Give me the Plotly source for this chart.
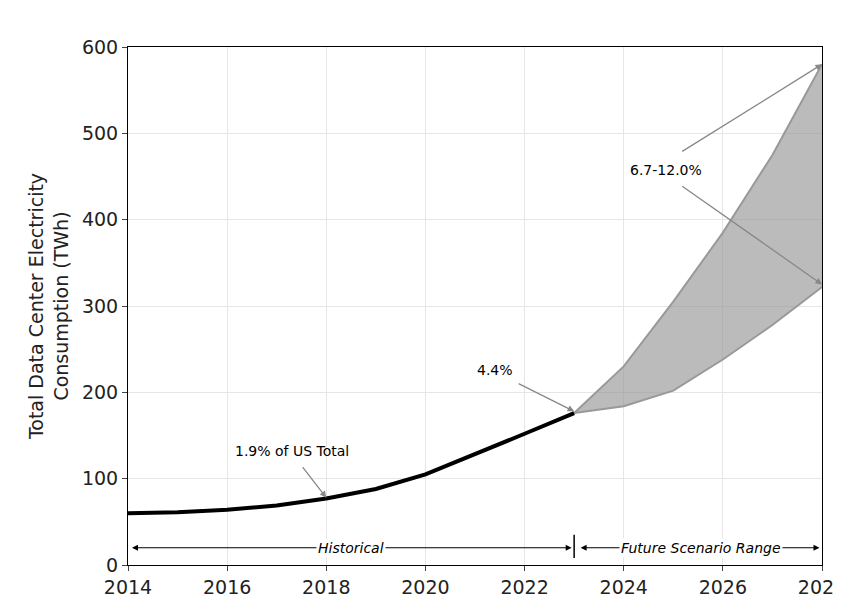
import plotly.graph_objs as go

# values (TWh)
hist_years = [2014, 2015, 2016, 2017, 2018, 2019, 2020, 2021, 2022, 2023]
hist_twh = [60, 61, 64, 69, 77, 88, 105, 128, 152, 176]

future_years = [2023, 2024, 2025, 2026, 2027, 2028]
future_high = [176, 230, 305, 385, 475, 580]
future_low = [176, 184, 202, 238, 278, 322]

x_ticks = [2014, 2016, 2018, 2020, 2022, 2024, 2026, 2028]
y_ticks = [0, 100, 200, 300, 400, 500, 600]

fig = go.Figure()

# scenario band
fig.add_trace(go.Scatter(x=future_years, y=future_low, mode='lines',
                         line=dict(color='#999999', width=2), showlegend=False))
fig.add_trace(go.Scatter(x=future_years, y=future_high, mode='lines', fill='tonexty',
                         fillcolor='rgba(150,150,150,0.65)',
                         line=dict(color='#999999', width=2), showlegend=False))
# historical line
fig.add_trace(go.Scatter(x=hist_years, y=hist_twh, mode='lines',
                         line=dict(color='black', width=4), showlegend=False))
# separator tick
fig.add_trace(go.Scatter(x=[2023, 2023], y=[8, 35], mode='lines',
                         line=dict(color='black', width=1.5), showlegend=False))

grey = '#888888'
ann = []
# pointers
ann.append(dict(x=2028, y=580, ax=2025.15, ay=478, text='', arrowcolor=grey))
ann.append(dict(x=2028, y=325, ax=2025.15, ay=440, text='', arrowcolor=grey))
ann.append(dict(x=2023, y=178, ax=2021.85, ay=211, text='', arrowcolor=grey))
ann.append(dict(x=2018, y=78, ax=2017.5, ay=115, text='', arrowcolor=grey))
for a in ann:
    a.update(xref='x', yref='y', axref='x', ayref='y', showarrow=True,
             arrowhead=2, arrowsize=1, arrowwidth=1.3)
# range arrows
for x0, x1 in [(2014.05, 2022.95), (2023.1, 2027.95)]:
    ann.append(dict(x=x1, y=20, ax=x0, ay=20, xref='x', yref='y', axref='x', ayref='y',
                    text='', showarrow=True, arrowhead=2, startarrowhead=2,
                    arrowside='end+start', arrowwidth=1.2, arrowcolor='black'))
labels = [
    (2024.85, 457, '6.7-12.0%', None),
    (2021.4, 226, '4.4%', None),
    (2017.3, 132, '1.9% of US Total', None),
    (2018.5, 20, '<i>Historical</i>', 'white'),
    (2025.55, 20, '<i>Future Scenario Range</i>', 'white'),
]
for x, y, t, bg in labels:
    ann.append(dict(x=x, y=y, xref='x', yref='y', text=t, showarrow=False,
                    font=dict(size=14, color='black'),
                    bgcolor=bg if bg else 'rgba(0,0,0,0)', borderpad=1))

fig.update_layout(
    width=843, height=611,
    margin=dict(l=120, r=29, t=39, b=54),
    plot_bgcolor='white', paper_bgcolor='white',
    font=dict(family='DejaVu Sans', color='#222222'),
    annotations=ann,
)
fig.update_xaxes(range=[2014, 2028], tickvals=x_ticks, tickfont=dict(size=19),
                 showgrid=True, gridcolor='#e6e6e6', showline=True, linecolor='black',
                 mirror=True, ticks='outside', ticklen=5, zeroline=False, automargin=False)
fig.update_yaxes(range=[0, 600], tickvals=y_ticks, tickfont=dict(size=19),
                 title=dict(text='Total Data Center Electricity<br>Consumption (TWh)',
                            font=dict(size=19), standoff=8),
                 showgrid=True, gridcolor='#e6e6e6', showline=True, linecolor='black',
                 mirror=True, ticks='outside', ticklen=5, zeroline=False, automargin=False)

fig.write_html("out.html")
